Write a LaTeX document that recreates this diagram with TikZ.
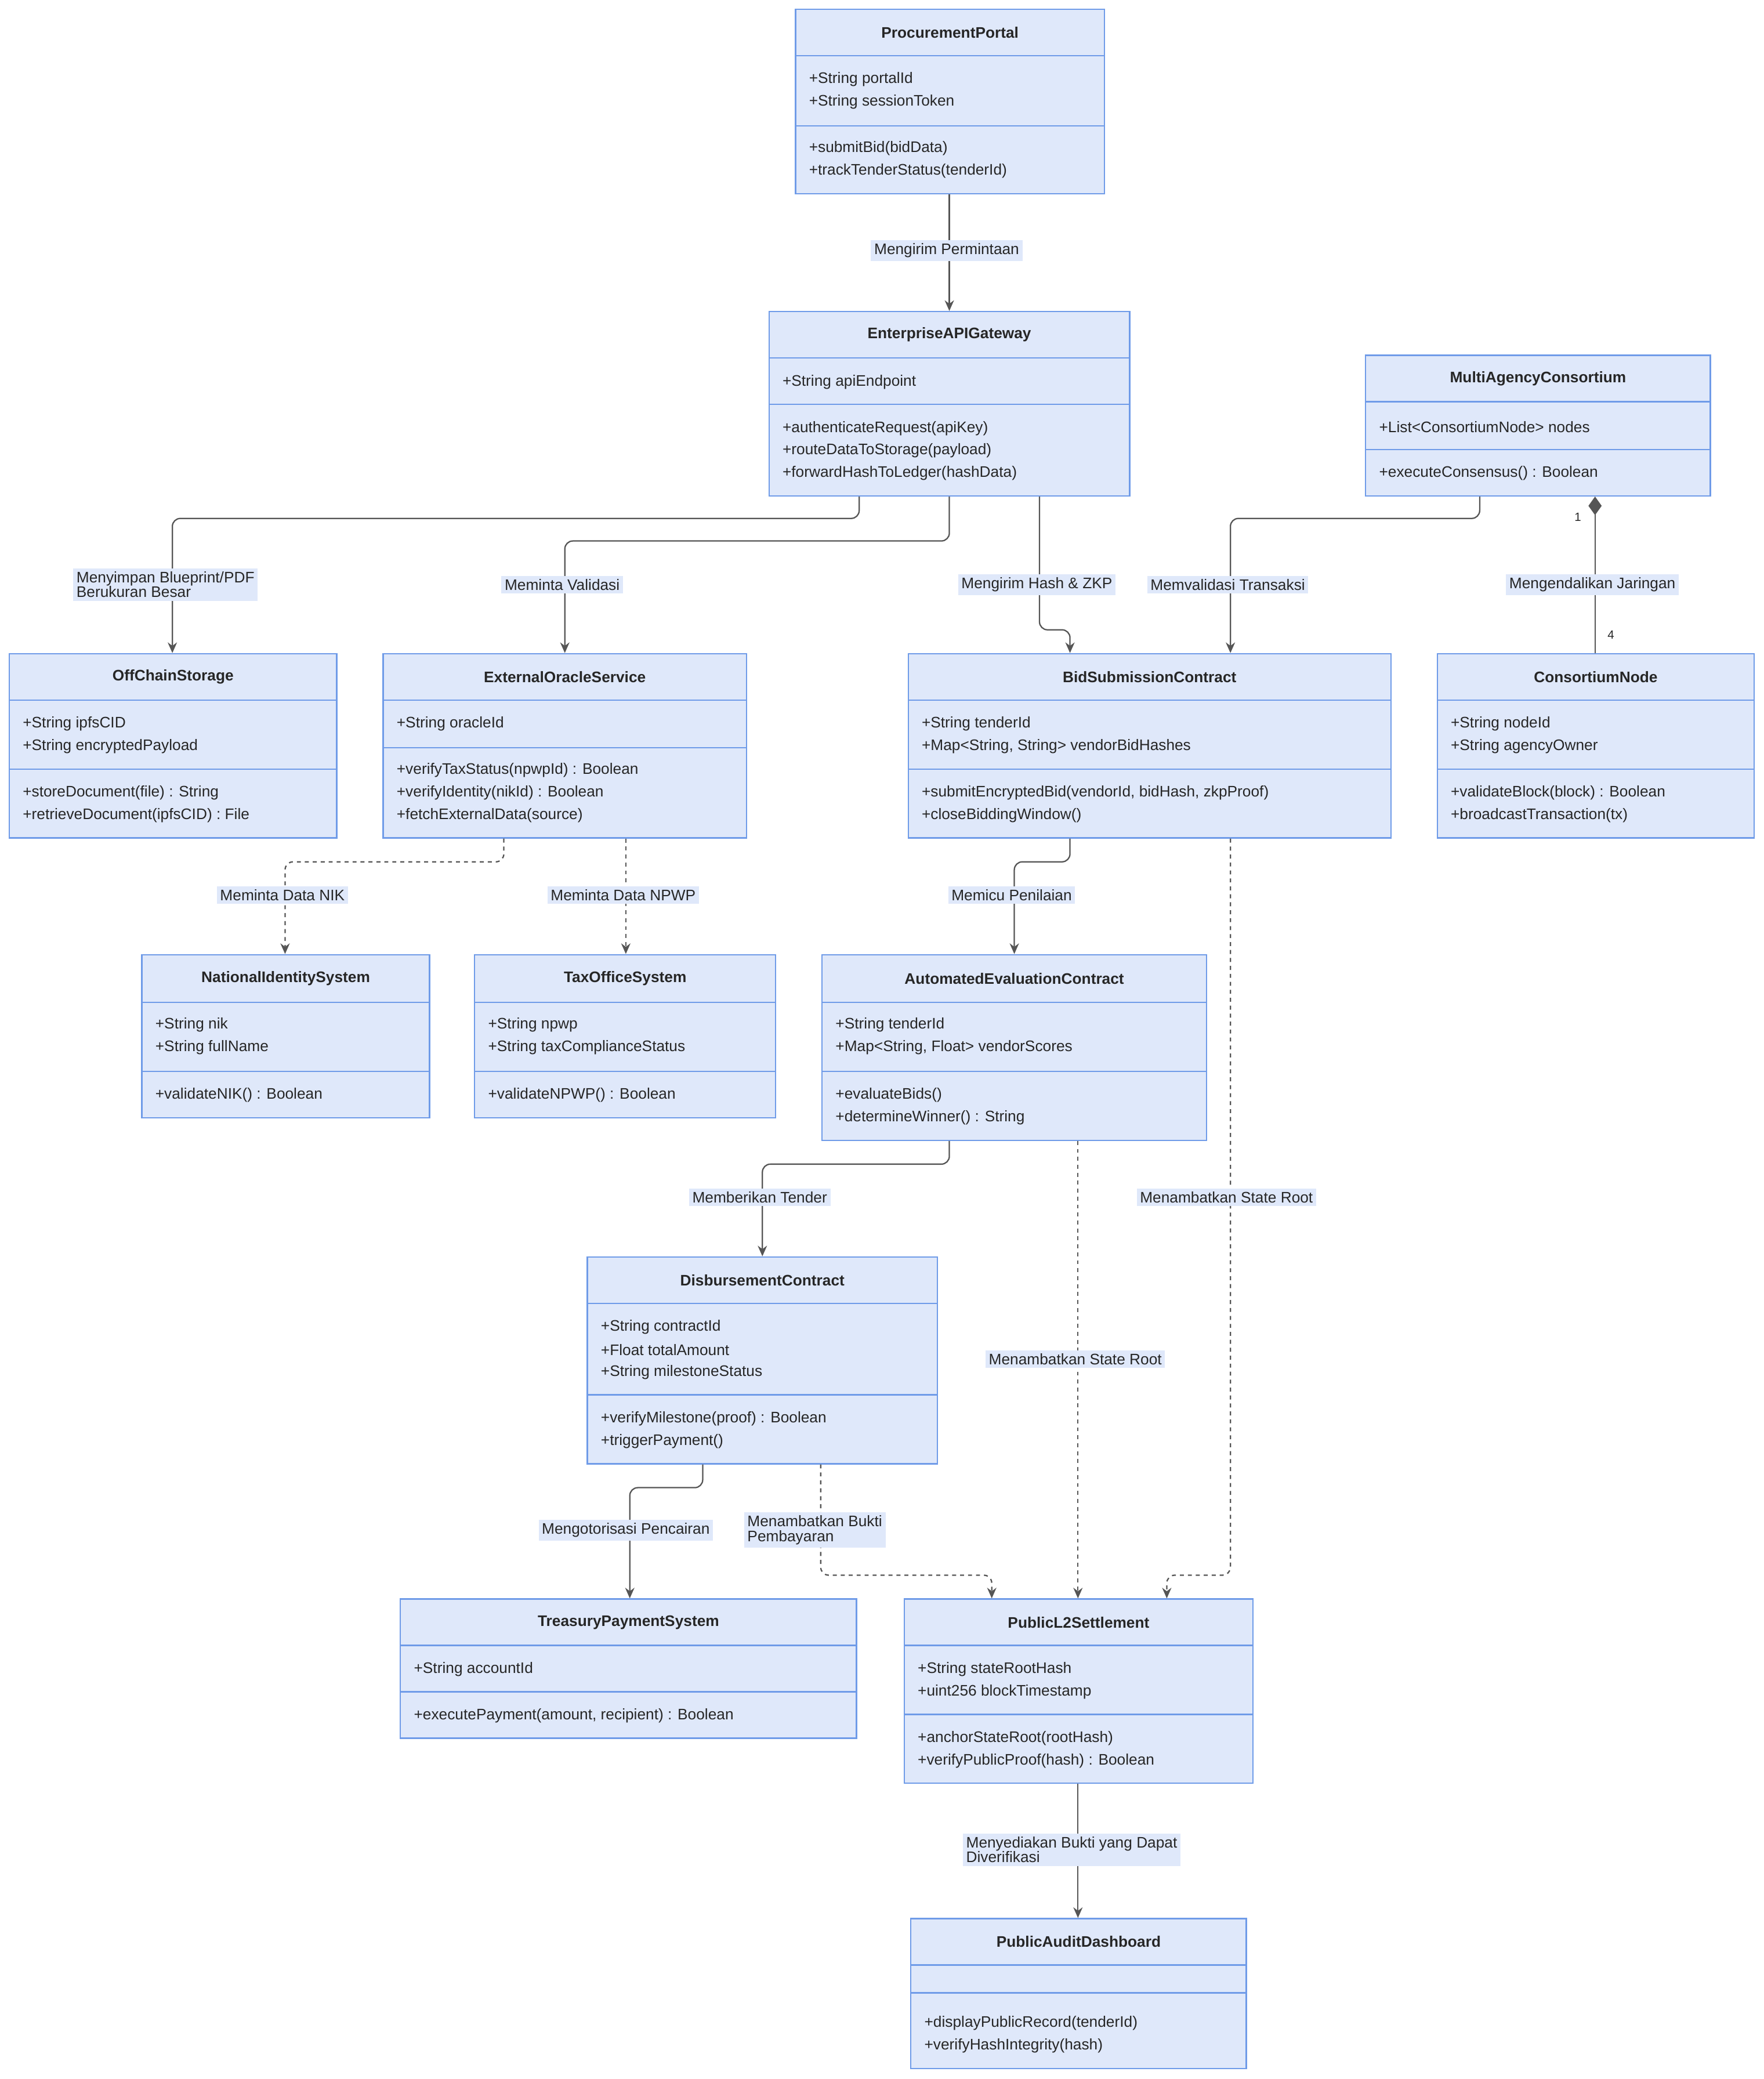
\documentclass[tikz,border=0pt]{standalone}
\usepackage{fontspec}
\setmainfont{Liberation Sans}
\usetikzlibrary{arrows.meta}
\definecolor{clsfill}{HTML}{DFE8FA}
\definecolor{clsdraw}{HTML}{6F9BE8}
\definecolor{edgecol}{HTML}{555555}
\tikzset{
  cls/.style={draw=clsdraw,fill=clsfill,line width=1pt,inner sep=0pt,rectangle},
  clsline/.style={draw=clsdraw,line width=1pt},
  ttl/.style={font=\fontsize{11.5}{13}\selectfont\bfseries,text=black!85},
  mem/.style={font=\fontsize{11.5}{13}\selectfont,text=black!85,anchor=west,inner sep=0pt},
  lbl/.style={fill=clsfill,font=\fontsize{11.5}{13}\selectfont,text=black!85,inner sep=2.5pt,align=left},
  rel/.style={draw=edgecol,line width=1pt,rounded corners=6pt,-{Stealth[length=8pt,width=7pt]}},
  dep/.style={rel,dashed},
  mult/.style={font=\fontsize{9}{10}\selectfont,text=black!85}
}
% class box: name, x1, y1, x2, y2, divider 1, divider 2, title
\newcommand{\umlclass}[8]{%
  \node[cls,minimum width={(#4-#2)*1pt},minimum height={(#5-#3)*1pt}] (#1) at ({(#2+#4)/2},{(#3+#5)/2}) {};
  \draw[clsline] (#2,#6) -- (#4,#6) (#2,#7) -- (#4,#7);
  \node[ttl] at ({(#2+#4)/2},{(#3+#6)/2}) {#8};}
\newcommand{\member}[3]{\node[mem] at (#1+10,#2) {#3};}
\begin{document}
\begin{tikzpicture}[x=1pt,y=-1pt]
\useasboundingbox (0,0) rectangle (1330,1568);
%
\umlclass{portal}{600}{7}{833}{146}{42}{95}{ProcurementPortal}
\member{600}{60}{+String portalId}
\member{600}{77}{+String sessionToken}
\member{600}{112}{+submitBid(bidData)}
\member{600}{129}{+trackTenderStatus(tenderId)}
%
\umlclass{gateway}{580}{235}{852}{374}{270}{305}{EnterpriseAPIGateway}
\member{580}{288}{+String apiEndpoint}
\member{580}{323}{+authenticateRequest(apiKey)}
\member{580}{340}{+routeDataToStorage(payload)}
\member{580}{357}{+forwardHashToLedger(hashData)}
%
\umlclass{consortium}{1030}{268}{1290}{374}{303}{339}{MultiAgencyConsortium}
\member{1030}{322}{+List<ConsortiumNode> nodes}
\member{1030}{357}{+executeConsensus() : Boolean}
%
\umlclass{storage}{7}{493}{254}{632}{528}{580}{OffChainStorage}
\member{7}{546}{+String ipfsCID}
\member{7}{563}{+String encryptedPayload}
\member{7}{598}{+storeDocument(file) : String}
\member{7}{615}{+retrieveDocument(ipfsCID) : File}
%
\umlclass{oracle}{289}{493}{563}{632}{528}{564}{ExternalOracleService}
\member{289}{546}{+String oracleId}
\member{289}{581}{+verifyTaxStatus(npwpId) : Boolean}
\member{289}{598}{+verifyIdentity(nikId) : Boolean}
\member{289}{615}{+fetchExternalData(source)}
%
\umlclass{bid}{685}{493}{1049}{632}{528}{580}{BidSubmissionContract}
\member{685}{546}{+String tenderId}
\member{685}{563}{+Map<String, String> vendorBidHashes}
\member{685}{598}{+submitEncryptedBid(vendorId, bidHash, zkpProof)}
\member{685}{615}{+closeBiddingWindow()}
%
\umlclass{cnode}{1084}{493}{1323}{632}{528}{580}{ConsortiumNode}
\member{1084}{546}{+String nodeId}
\member{1084}{563}{+String agencyOwner}
\member{1084}{598}{+validateBlock(block) : Boolean}
\member{1084}{615}{+broadcastTransaction(tx)}
%
\umlclass{identity}{107}{720}{324}{843}{756}{808}{NationalIdentitySystem}
\member{107}{773}{+String nik}
\member{107}{790}{+String fullName}
\member{107}{826}{+validateNIK() : Boolean}
%
\umlclass{tax}{358}{720}{585}{843}{756}{808}{TaxOfficeSystem}
\member{358}{773}{+String npwp}
\member{358}{790}{+String taxComplianceStatus}
\member{358}{826}{+validateNPWP() : Boolean}
%
\umlclass{evaluation}{620}{720}{910}{860}{756}{808}{AutomatedEvaluationContract}
\member{620}{773}{+String tenderId}
\member{620}{790}{+Map<String, Float> vendorScores}
\member{620}{826}{+evaluateBids()}
\member{620}{843}{+determineWinner() : String}
%
\umlclass{disburse}{443}{948}{707}{1104}{983}{1052}{DisbursementContract}
\member{443}{1001}{+String contractId}
\member{443}{1018}{+Float totalAmount}
\member{443}{1035}{+String milestoneStatus}
\member{443}{1070}{+verifyMilestone(proof) : Boolean}
\member{443}{1087}{+triggerPayment()}
%
\umlclass{treasury}{302}{1206}{646}{1311}{1241}{1276}{TreasuryPaymentSystem}
\member{302}{1259}{+String accountId}
\member{302}{1294}{+executePayment(amount, recipient) : Boolean}
%
\umlclass{settle}{682}{1206}{945}{1345}{1241}{1293}{PublicL2Settlement}
\member{682}{1259}{+String stateRootHash}
\member{682}{1276}{+uint256 blockTimestamp}
\member{682}{1311}{+anchorStateRoot(rootHash)}
\member{682}{1328}{+verifyPublicProof(hash) : Boolean}
%
\umlclass{audit}{687}{1447}{940}{1560}{1482}{1503}{PublicAuditDashboard}
\member{687}{1526}{+displayPublicRecord(tenderId)}
\member{687}{1543}{+verifyHashIntegrity(hash)}
%
% relations
\draw[rel] (portal.south -| 716,0) -- (gateway.north -| 716,0);
\draw[rel] (gateway.south -| 648,0) -- (648,391) -- (130,391) -- (storage.north -| 130,0);
\draw[rel] (gateway.south -| 716,0) -- (716,408) -- (426,408) -- (oracle.north -| 426,0);
\draw[rel] (gateway.south -| 784,0) -- (784,475) -- (807,475) -- (bid.north -| 807,0);
\draw[rel] (consortium.south -| 1116,0) -- (1116,391) -- (928,391) -- (bid.north -| 928,0);
\draw[draw=edgecol,line width=1pt,-{Diamond[length=14pt,width=10pt]}] (cnode.north -| 1203,0) -- (consortium.south -| 1203,0);
\draw[dep] (oracle.south -| 380,0) -- (380,650) -- (215,650) -- (identity.north -| 215,0);
\draw[dep] (oracle.south -| 472,0) -- (tax.north -| 472,0);
\draw[rel] (bid.south -| 807,0) -- (807,650) -- (765,650) -- (evaluation.north -| 765,0);
\draw[dep] (bid.south -| 928,0) -- (928,1188) -- (880,1188) -- (settle.north -| 880,0);
\draw[rel] (evaluation.south -| 716,0) -- (716,878) -- (575,878) -- (disburse.north -| 575,0);
\draw[dep] (evaluation.south -| 813,0) -- (settle.north -| 813,0);
\draw[rel] (disburse.south -| 530,0) -- (530,1122) -- (475,1122) -- (treasury.north -| 475,0);
\draw[dep] (disburse.south -| 619,0) -- (619,1188) -- (748,1188) -- (settle.north -| 748,0);
\draw[rel] (settle.south -| 813,0) -- (audit.north -| 813,0);
%
% labels
\node[lbl] at (714,189) {Mengirim Permintaan};
\node[lbl,anchor=west] at (55,441) {Menyimpan Blueprint/PDF\\[-2pt]Berukuran Besar};
\node[lbl] at (424,441) {Meminta Validasi};
\node[lbl] at (782,441) {Mengirim Hash \& ZKP};
\node[lbl] at (926,441) {Memvalidasi Transaksi};
\node[lbl] at (1201,441) {Mengendalikan Jaringan};
\node[mult] at (1190,390) {1};
\node[mult] at (1215,479) {4};
\node[lbl] at (213,675) {Meminta Data NIK};
\node[lbl] at (470,675) {Meminta Data NPWP};
\node[lbl] at (763,675) {Memicu Penilaian};
\node[lbl] at (925,903) {Menambatkan State Root};
\node[lbl] at (573,903) {Memberikan Tender};
\node[lbl] at (811,1025) {Menambatkan State Root};
\node[lbl] at (472,1154) {Mengotorisasi Pencairan};
\node[lbl,anchor=west] at (561,1154) {Menambatkan Bukti\\[-2pt]Pembayaran};
\node[lbl,anchor=west] at (726,1395) {Menyediakan Bukti yang Dapat\\[-2pt]Diverifikasi};
\end{tikzpicture}
\end{document}
